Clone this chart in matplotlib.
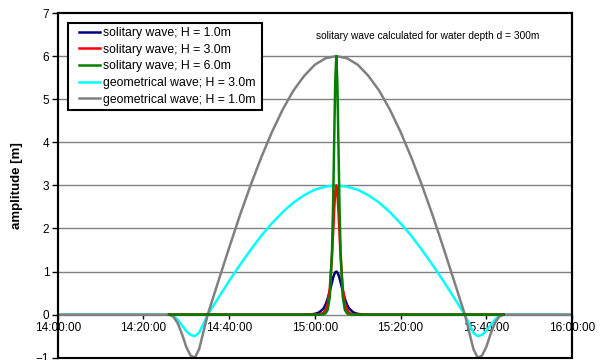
import matplotlib
matplotlib.use('Agg')
import matplotlib.pyplot as plt
from matplotlib.patches import Rectangle

plt.rcParams['font.family'] = ['Liberation Sans', 'DejaVu Sans']

# temps en minutes depuis 14:00:00
geo_t = [0, 26, 27, 28, 29, 30, 31, 32, 33, 34, 35, 37.5, 40, 42.5, 45, 47.5, 50, 52.5, 55, 57.5, 60, 62.5, 65,
         67.5, 70, 72.5, 75, 77.5, 80, 82.5, 85, 87.5, 90, 92.5, 95, 96, 97, 98, 99, 100, 101, 102, 103, 104, 120]
geo_H1 = [0, 0, -0.05, -0.2, -0.45, -0.75, -0.95, -1.0, -0.8, -0.4, 0, 0.78, 1.55, 2.30, 3.0, 3.65, 4.24, 4.76, 5.20, 5.54, 5.80, 5.95, 6.0,
          5.95, 5.80, 5.54, 5.20, 4.76, 4.24, 3.65, 3.0, 2.30, 1.55, 0.78, 0, -0.4, -0.8, -1.0, -0.95, -0.75, -0.45, -0.2, -0.05, 0, 0]
geo_H3 = [0, 0, -0.03, -0.12, -0.25, -0.38, -0.47, -0.5, -0.42, -0.22, 0, 0.39, 0.78, 1.15, 1.5, 1.83, 2.12, 2.38, 2.60, 2.77, 2.90, 2.97, 3.0,
          2.97, 2.90, 2.77, 2.60, 2.38, 2.12, 1.83, 1.5, 1.15, 0.78, 0.39, 0, -0.22, -0.42, -0.5, -0.47, -0.38, -0.25, -0.12, -0.03, 0, 0]

sol_t = [26, 58, 59, 60, 61, 62, 62.5, 63, 63.5, 64, 64.25, 64.5, 64.75, 65,
         65.25, 65.5, 65.75, 66, 66.5, 67, 67.5, 68, 69, 70, 71, 72, 104]
sol_H1 = [0, 0, 0.006, 0.017, 0.05, 0.14, 0.23, 0.37, 0.55, 0.75, 0.85, 0.93, 0.98, 1.0,
          0.98, 0.93, 0.85, 0.75, 0.55, 0.37, 0.23, 0.14, 0.05, 0.017, 0.006, 0, 0]
sol_H3 = [0, 0, 0, 0, 0.006, 0.04, 0.11, 0.26, 0.63, 1.37, 1.89, 2.42, 2.84, 3.0,
          2.84, 2.42, 1.89, 1.37, 0.63, 0.26, 0.11, 0.04, 0.006, 0, 0, 0, 0]
sol_H6 = [0, 0, 0, 0, 0, 0.008, 0.03, 0.11, 0.42, 1.46, 2.52, 3.96, 5.38, 6.0,
          5.38, 3.96, 2.52, 1.46, 0.42, 0.11, 0.03, 0.008, 0, 0, 0, 0, 0]

xticks = [0, 20, 40, 60, 80, 100, 120]
xlabels = ['14:00:00', '14:20:00', '14:40:00', '15:00:00', '15:20:00', '15:40:00', '16:00:00']

fig = plt.figure(figsize=(6.07, 3.6), dpi=100)
ax = fig.add_axes([57.7/607, 1-357.7/360, (572-57.7)/607, (357.7-13)/360])

for y in range(1, 7):
    ax.axhline(y, color='#808080', lw=1, zorder=1)

l_cy, = ax.plot(geo_t, geo_H3, color='#00FFFF', lw=1.8, zorder=2, label='geometrical wave; H = 3.0m')
l_gr, = ax.plot(geo_t, geo_H1, color='#808080', lw=1.8, zorder=2.1, label='geometrical wave; H = 1.0m')
l_b, = ax.plot(sol_t, sol_H1, color='#000080', lw=1.8, zorder=3, label='solitary wave; H = 1.0m')
l_r, = ax.plot(sol_t, sol_H3, color='#FF0000', lw=1.8, zorder=3.1, label='solitary wave; H = 3.0m')
l_g, = ax.plot(sol_t, sol_H6, color='#008000', lw=1.8, zorder=3.2, label='solitary wave; H = 6.0m')

ax.set_xlim(0, 120)
ax.set_ylim(-1, 7)
ax.spines['bottom'].set_position(('data', 0))
ax.spines['bottom'].set_color('#808080')
ax.spines['bottom'].set_linewidth(1)
for s in ['left', 'right', 'top']:
    ax.spines[s].set_linewidth(1.5)
ax.add_patch(Rectangle((0, 0), 1, 1, transform=ax.transAxes, fill=False, ec='black', lw=1.5, clip_on=False, zorder=10))

ax.set_xticks(xticks)
ax.set_xticklabels(xlabels)
ax.set_yticks(range(-1, 8))
ax.tick_params(axis='x', direction='out', length=3, width=1, color='black', labelsize=8.5, pad=2)
ax.tick_params(axis='y', direction='out', length=4, width=1, labelsize=8.5, pad=2)
ax.set_ylabel('amplitude [m]', fontsize=9.5, fontweight='bold', labelpad=9)

ax.text(86.4, 6.47, 'solitary wave calculated for water depth d = 300m', fontsize=7.3, ha='center', va='center')

# cadre de la légende
ax.add_patch(Rectangle((68/607, 1-110/360), (262-68)/607, (110-23)/360, transform=fig.transFigure,
                       fc='white', ec='black', lw=1.5, clip_on=False, zorder=5))
leg = ax.legend(handles=[l_b, l_r, l_g, l_cy, l_gr], loc='upper left', bbox_to_anchor=(79/607, 1-27/360),
                bbox_transform=fig.transFigure, frameon=False, fontsize=8.8, borderpad=0, borderaxespad=0,
                handlelength=1.7, handletextpad=0.25, labelspacing=0.38)
leg.set_zorder(6)

plt.savefig('out.png', dpi=100)
